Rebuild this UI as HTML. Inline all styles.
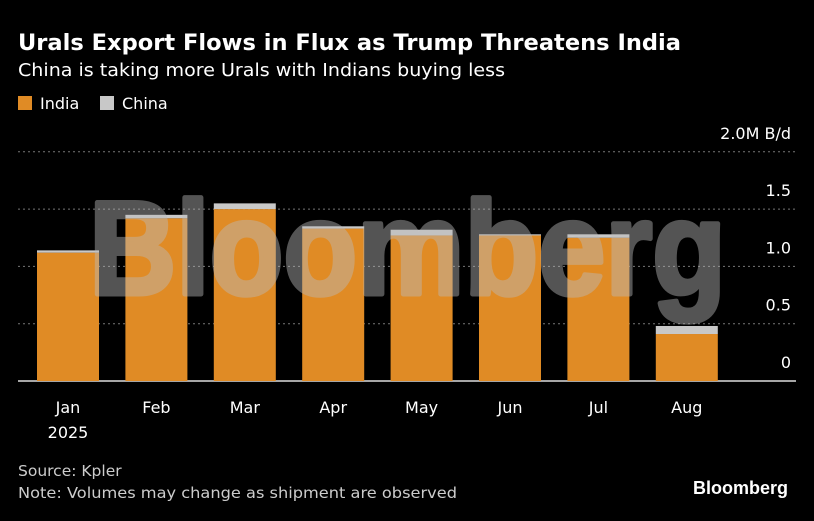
<!DOCTYPE html>
<html><head><meta charset="utf-8"><style>
body{margin:0;background:#000;width:814px;height:517px;overflow:hidden;font-family:"DejaVu Sans","Liberation Sans",sans-serif;color:#fff}
text{font-family:"DejaVu Sans","Liberation Sans",sans-serif}
</style></head><body>
<svg width="814" height="517">
<text x="18" y="50" font-size="22" font-weight="bold" fill="#fff" textLength="663" lengthAdjust="spacingAndGlyphs">Urals Export Flows in Flux as Trump Threatens India</text>
<text x="18" y="76" font-size="18" fill="#fff" textLength="487" lengthAdjust="spacingAndGlyphs">China is taking more Urals with Indians buying less</text>
<rect x="18" y="96" width="14" height="14" fill="#e08b25"/>
<text x="40" y="109" font-size="16" fill="#fff">India</text>
<rect x="100" y="96" width="14" height="14" fill="#c8c8c8"/>
<text x="122" y="109" font-size="16" fill="#fff">China</text>
<g id="grid"></g>
<g id="bars"></g>
<g opacity="0.45">
<text x="89" y="294" font-size="133" font-weight="bold" fill="#bbb" stroke="#bbb" stroke-width="5" stroke-linejoin="round" textLength="637" lengthAdjust="spacingAndGlyphs" style="font-family:'Liberation Sans',sans-serif">Bloomberg</text>
</g>
<g id="xl"></g>
<text x="18" y="476" font-size="15.5" fill="#ccc">Source: Kpler</text>
<text x="18" y="498" font-size="15.5" fill="#ccc" textLength="439" lengthAdjust="spacingAndGlyphs">Note: Volumes may change as shipment are observed</text>
<text x="788" y="494" text-anchor="end" font-size="18" font-weight="bold" fill="#fff" style="font-family:'Liberation Sans',sans-serif">Bloomberg</text>
</svg>
<script>
const categories=["Jan","Feb","Mar","Apr","May","Jun","Jul","Aug"];
const india=[1.12,1.42,1.50,1.33,1.27,1.27,1.25,0.41];
const china=[0.02,0.03,0.05,0.02,0.05,0.01,0.03,0.07];
const ticks=[0,0.5,1.0,1.5,2.0];
const tickLabels=["0","0.5","1.0","1.5","2.0M B/d"];
const NS="http://www.w3.org/2000/svg";
const y=v=>381-v*114.6, x=i=>37+i*88.4, bw=62;
function mk(t,a,p){const e=document.createElementNS(NS,t);for(const k in a)e.setAttribute(k,a[k]);p.appendChild(e);return e;}
const g=document.getElementById('grid');
ticks.forEach((t,i)=>{
 const l=mk('line',{x1:18,x2:796,y1:y(t),y2:y(t),stroke:t===0?'#ddd':'#777','stroke-width':t===0?1.5:1,'stroke-dasharray':t===0?'':'2,3'},g);
 
 
 const tx=mk('text',{x:791,y:y(t)-13,'text-anchor':'end','font-size':16,fill:'#fff'},g);
 tx.textContent=tickLabels[i];
 
 
});
const b=document.getElementById('bars'),xl=document.getElementById('xl');
categories.forEach((c,i)=>{
 const r1=mk('rect',{x:x(i),y:y(india[i]),width:bw,height:y(0)-y(india[i]),fill:'#e08b25'},b);
 
 
 const r2=mk('rect',{x:x(i),y:y(india[i]+china[i]),width:bw,height:y(india[i])-y(india[i]+china[i]),fill:'#c8c8c8'},b);
 
 
 const t=mk('text',{x:x(i)+bw/2,y:413,'text-anchor':'middle','font-size':16,fill:'#fff'},xl);
 t.textContent=c;
 
 
});
const yr=mk('text',{x:x(0)+bw/2,y:438,'text-anchor':'middle','font-size':16,fill:'#fff'},xl);
yr.textContent="2025";


</script>
</body></html>
